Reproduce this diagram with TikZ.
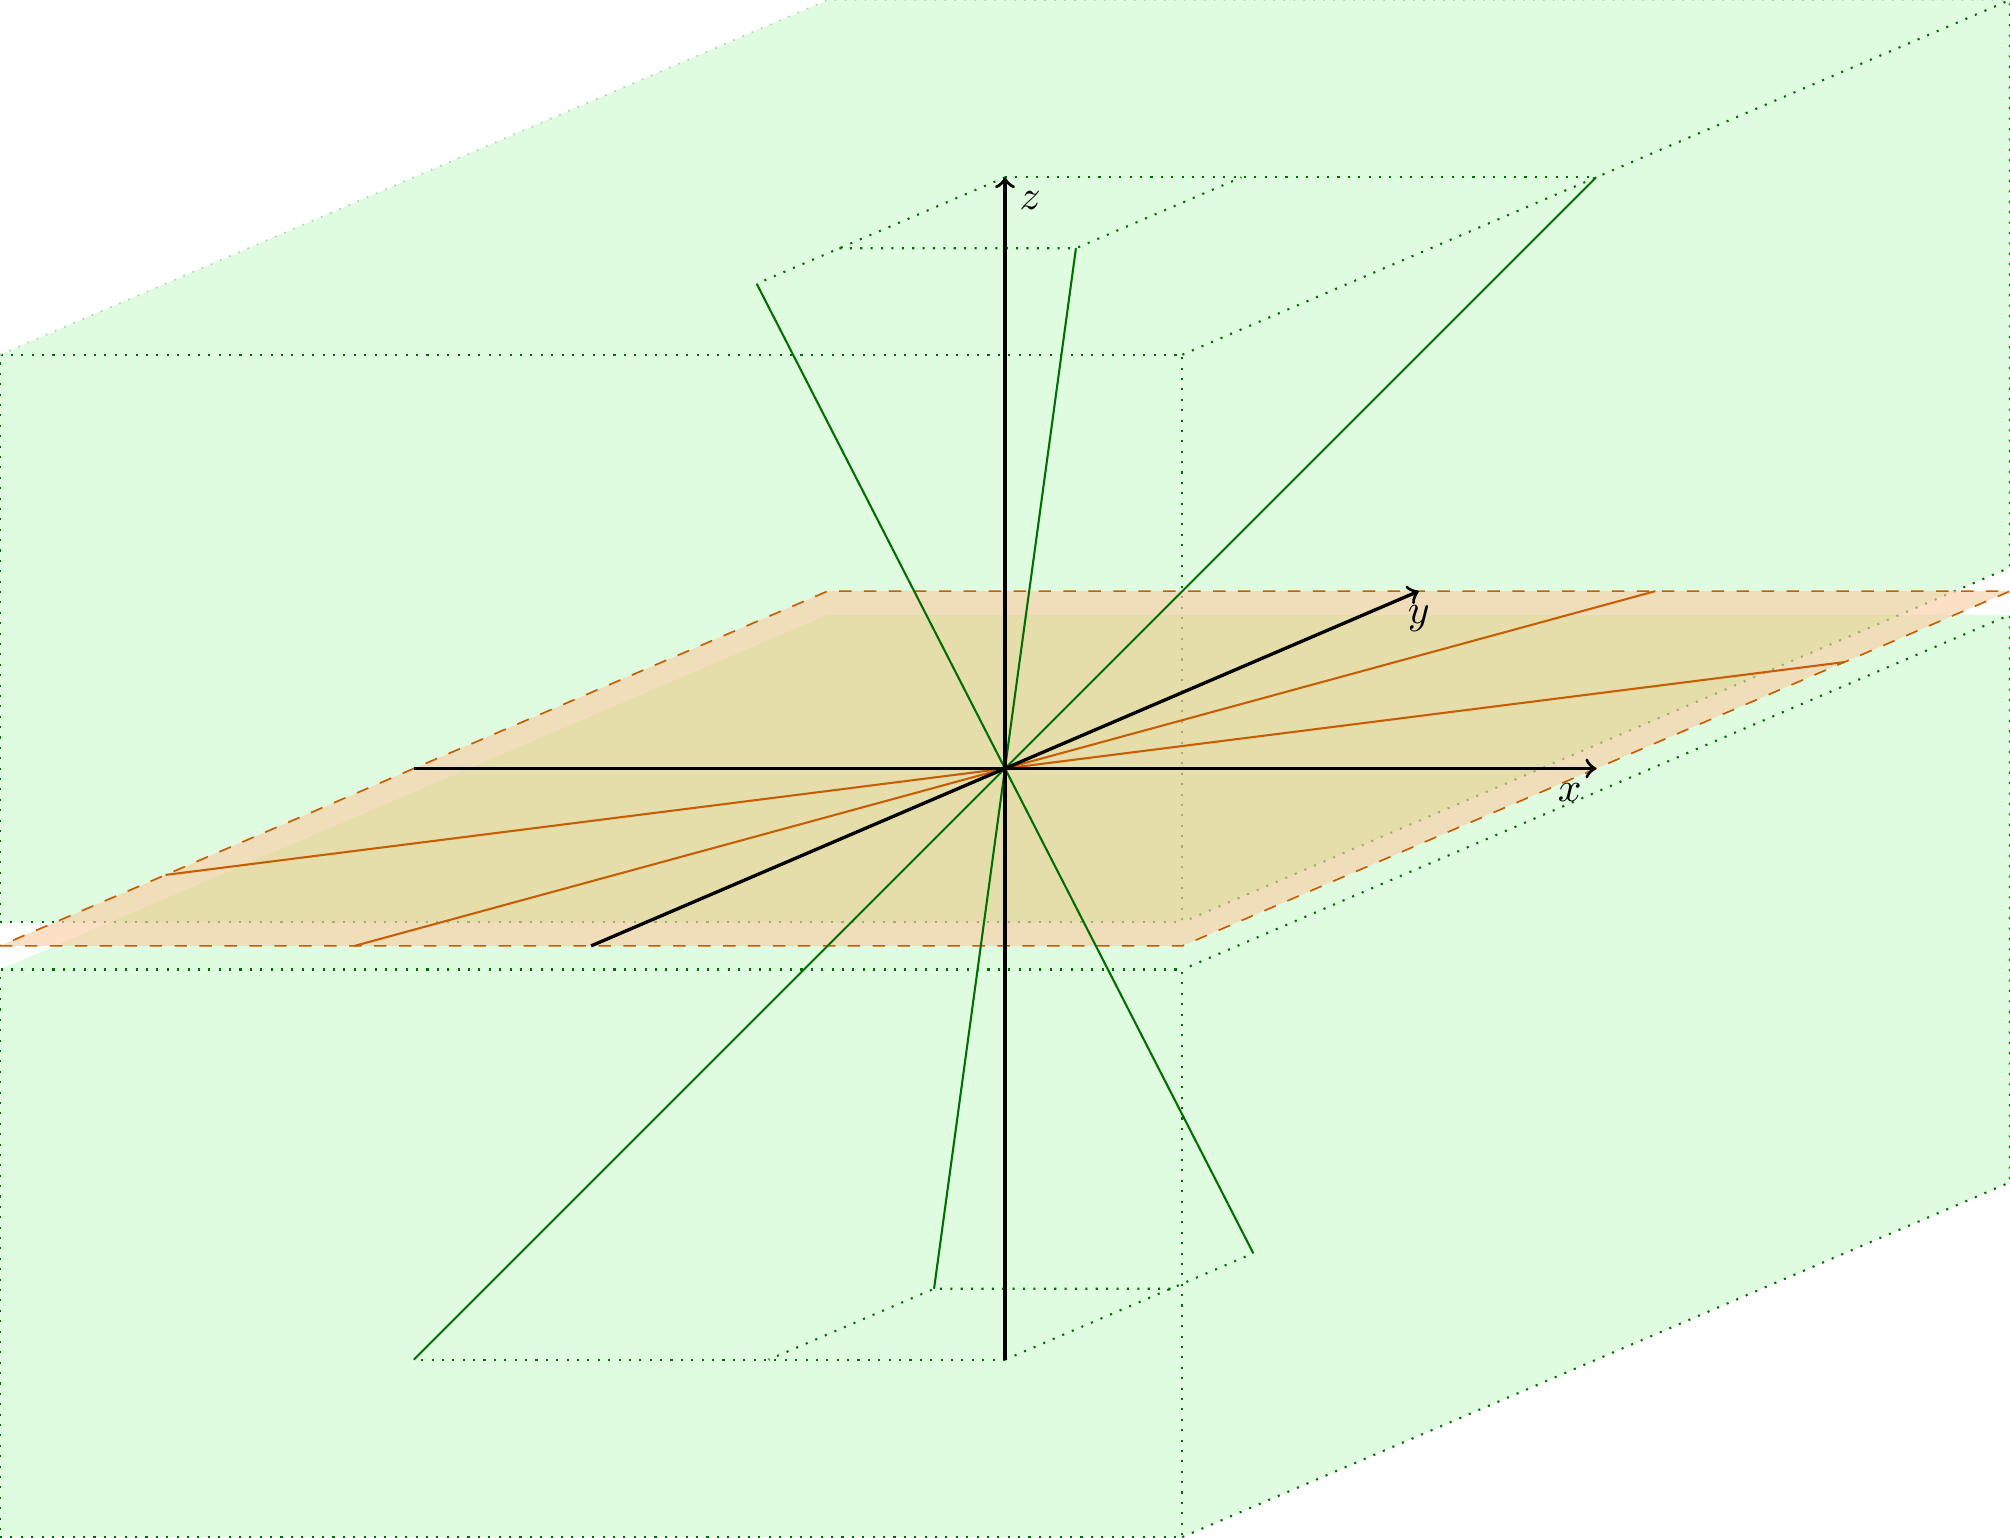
\documentclass[tikz,border=0pt]{standalone}
\usepackage{xcolor}
\usepackage{tikz}
\usepackage{amsmath, amssymb}

\definecolor{verdecaja}{RGB}{224,252,224}
\definecolor{verdecruce}{RGB}{190,250,176}
\definecolor{verdeoscuro}{RGB}{0,110,0}
\definecolor{naranja}{RGB}{200,92,0}
\definecolor{planocol}{RGB}{250,207,168}

\begin{document}
\begin{tikzpicture}[x={(5cm,0cm)}, y={(3.5cm,1.5cm)}, z={(0cm,5cm)},
  arista/.style={dotted, line width=0.5pt, verdeoscuro},
  oculta/.style={dotted, verdeoscuro!30},
  recta/.style={line width=0.5pt, verdeoscuro},
  rectaplano/.style={line width=0.5pt, naranja},
  eje/.style={thick, ->},
  every node/.style={inner sep=0.333em}]
  \useasboundingbox (-8.5cm,-6.5cm) rectangle (8.5cm,6.5cm);

  % Caja superior
  \coordinate (s1) at (-1,-1,0.04);
  \coordinate (s2) at (1,-1,0.04);
  \coordinate (s3) at (1,1,0.04);
  \coordinate (s4) at (-1,1,0.04);
  \coordinate (s5) at (-1,-1,1);
  \coordinate (s6) at (1,-1,1);
  \coordinate (s7) at (1,1,1);
  \coordinate (s8) at (-1,1,1);

  % Caja inferior
  \coordinate (i1) at (-1,-1,-1);
  \coordinate (i2) at (1,-1,-1);
  \coordinate (i3) at (1,1,-1);
  \coordinate (i4) at (-1,1,-1);
  \coordinate (i5) at (-1,-1,-0.04);
  \coordinate (i6) at (1,-1,-0.04);
  \coordinate (i7) at (1,1,-0.04);
  \coordinate (i8) at (-1,1,-0.04);

  \fill[verdecaja] (s1) -- (s5) -- (s8) -- (s7) -- (s3) -- (s2) -- cycle;
  \fill[verdecaja] (i1) -- (i5) -- (i8) -- (i7) -- (i3) -- (i2) -- cycle;
  \begin{scope}
    \clip (s1) -- (s5) -- (s8) -- (s7) -- (s3) -- (s2) -- cycle;
    \fill[verdecruce] (i1) -- (i5) -- (i8) -- (i7) -- (i3) -- (i2) -- cycle;
  \end{scope}

  \draw[arista] (s1) -- (s2) -- (s6) -- (s5) -- cycle;
  \draw[arista] (s6) -- (s7) -- (s3) -- (s2);
  \draw[oculta] (s5) -- (s8) -- (s7);
  \draw[arista] (i1) -- (i2) -- (i6) -- (i5) -- cycle;
  \draw[arista] (i2) -- (i3) -- (i7) -- (i6);

  % Plano z=0
  \coordinate (p1) at (-1,-1,0);
  \coordinate (p2) at (1,-1,0);
  \coordinate (p3) at (1,1,0);
  \coordinate (p4) at (-1,1,0);
  \fill[planocol, fill opacity=0.65] (p1) -- (p2) -- (p3) -- (p4) -- cycle;
  \draw[naranja, dashed] (p1) -- (p2) -- (p3) -- (p4) -- cycle;

  % Puntos de las rectas
  \coordinate (O) at (0,0,0);
  \coordinate (zs) at (0,0,1);
  \coordinate (zi) at (0,0,-1);
  \coordinate (a1) at (0,-0.6,1);
  \coordinate (a2) at (0,0.6,-1);
  \coordinate (b1) at (0.4,-0.4,1);
  \coordinate (b1x) at (0.4,0,1);
  \coordinate (b1y) at (0,-0.4,1);
  \coordinate (b2) at (-0.4,0.4,-1);
  \coordinate (b2x) at (-0.4,0,-1);
  \coordinate (b2y) at (0,0.4,-1);
  \coordinate (c1) at (1,0,1);
  \coordinate (c2) at (-1,0,-1);
  \coordinate (d1) at (0.4,1,0);
  \coordinate (d2) at (-0.4,-1,0);
  \coordinate (f1) at (1,0.6,0);
  \coordinate (f2) at (-1,-0.6,0);

  % Proyecciones punteadas
  \draw[arista] (zs) -- (c1);
  \draw[arista] (zs) -- (a1);
  \draw[arista] (b1y) -- (b1) -- (b1x);
  \draw[arista] (zi) -- (c2);
  \draw[arista] (zi) -- (a2);
  \draw[arista] (b2y) -- (b2) -- (b2x);

  % Rectas
  \draw[recta] (a1) -- (a2);
  \draw[recta] (b1) -- (b2);
  \draw[recta] (c1) -- (c2);
  \draw[rectaplano] (d1) -- (d2);
  \draw[rectaplano] (f1) -- (f2);

  % Ejes
  \coordinate (xi) at (-1,0,0);
  \coordinate (xs) at (1,0,0);
  \coordinate (yi) at (0,-1,0);
  \coordinate (ys) at (0,1,0);
  \draw[eje] (xi) -- (xs);
  \draw[eje] (yi) -- (ys);
  \draw[eje] (zi) -- (zs);
  \node[below left] (lx) at (xs) {$x$};
  \node[below] (ly) at (ys) {$y$};
  \node[below right] (lz) at (zs) {$z$};
\end{tikzpicture}
\end{document}
